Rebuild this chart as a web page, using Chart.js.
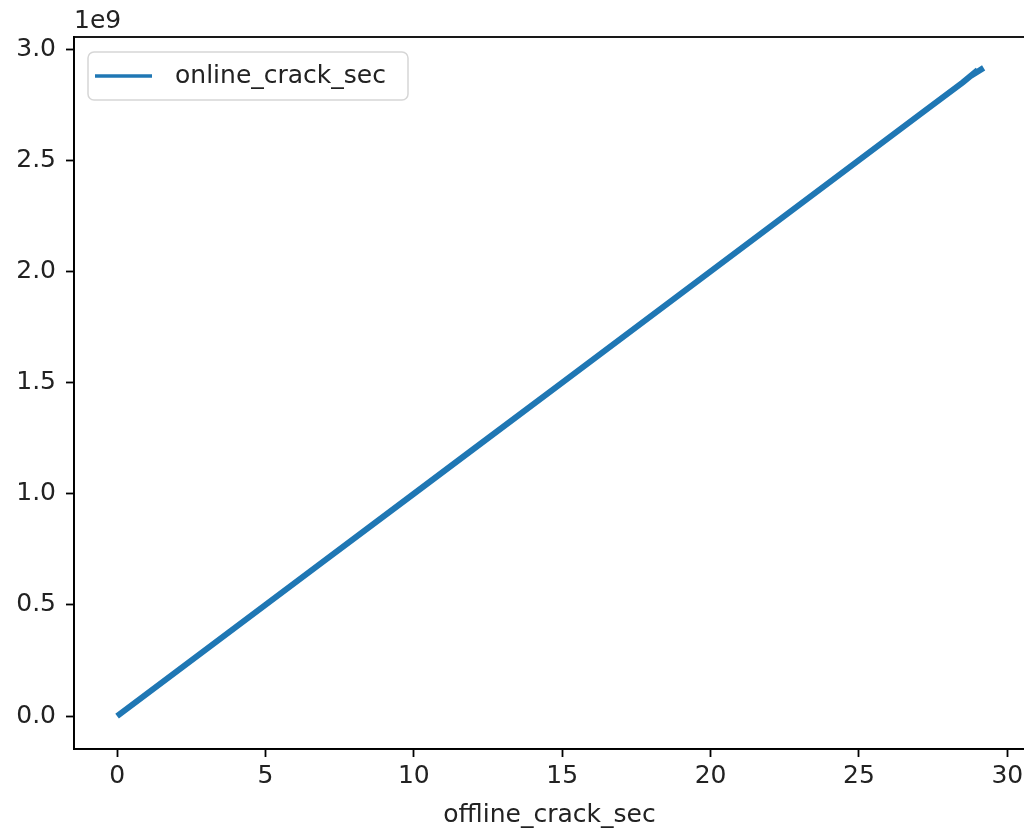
<!DOCTYPE html>
<html>
<head>
<meta charset="utf-8">
<script src="https://cdn.jsdelivr.net/npm/chart.js@4"></script>
<style>
  html, body { margin: 0; padding: 0; background: #fff; overflow: hidden; }
  #wrap { width: 1024px; height: 835px; overflow: hidden; }
</style>
</head>
<body>
<div id="wrap"><canvas id="chart" width="1040" height="835"></canvas></div>
<script>
// offline vs online crack time (seconds)
const offlineSec = [0, 1, 2, 4, 5, 7, 10, 12, 15, 17, 20, 22, 25, 27, 28.5, 29.0, 28.9, 29.2];
const onlineSec = [0, 1.0e8, 2.0e8, 4.0e8, 5.0e8, 7.0e8, 1.0e9, 1.2e9, 1.5e9, 1.7e9, 2.0e9, 2.2e9, 2.5e9, 2.7e9, 2.85e9, 2.905e9, 2.89e9, 2.915e9];
const xTicks = [0, 5, 10, 15, 20, 25, 30];
const yTicks = [0, 0.5e9, 1.0e9, 1.5e9, 2.0e9, 2.5e9, 3.0e9];
const xLabel = "offline_crack_sec";

const FONT = "'DejaVu Sans', sans-serif";
const FS = 25;
const BLUE = "#1f77b4";

// axes frame, axis label, offset label and legend drawn in matplotlib style
const mplDecor = {
  id: "mplDecor",
  afterDraw(chart) {
    const { ctx, chartArea: a } = chart;
    ctx.save();
    ctx.strokeStyle = "#000";
    ctx.lineWidth = 1.8;
    ctx.strokeRect(a.left, a.top, a.right - a.left, a.bottom - a.top);

    ctx.fillStyle = "#222";
    ctx.font = FS + "px " + FONT;
    ctx.textBaseline = "alphabetic";
    ctx.textAlign = "left";
    ctx.fillText("1e9", a.left, a.top - 9);

    ctx.textAlign = "center";
    ctx.textBaseline = "middle";
    ctx.fillText(xLabel, (a.left + 1025) / 2, a.bottom + 66);

    // legend box
    const bx = 88, by = 52, bw = 320, bh = 48, r = 6;
    ctx.beginPath();
    ctx.moveTo(bx + r, by);
    ctx.arcTo(bx + bw, by, bx + bw, by + bh, r);
    ctx.arcTo(bx + bw, by + bh, bx, by + bh, r);
    ctx.arcTo(bx, by + bh, bx, by, r);
    ctx.arcTo(bx, by, bx + bw, by, r);
    ctx.closePath();
    ctx.fillStyle = "rgba(255,255,255,0.8)";
    ctx.fill();
    ctx.strokeStyle = "#d6d6d6";
    ctx.lineWidth = 1.5;
    ctx.stroke();

    const ds = chart.data.datasets[0];
    ctx.beginPath();
    ctx.moveTo(95, by + bh / 2);
    ctx.lineTo(152, by + bh / 2);
    ctx.strokeStyle = ds.borderColor;
    ctx.lineWidth = 3.3;
    ctx.stroke();
    ctx.fillStyle = "#222";
    ctx.textAlign = "left";
    ctx.textBaseline = "middle";
    ctx.fillText(ds.label, 175, by + bh / 2);
    ctx.restore();
  }
};

new Chart(document.getElementById("chart"), {
  type: "scatter",
  data: {
    datasets: [{
      label: "online_crack_sec",
      data: offlineSec.map((x, i) => ({ x: x, y: onlineSec[i] })),
      showLine: true,
      borderColor: BLUE,
      backgroundColor: BLUE,
      borderWidth: 6,
      pointRadius: 0,
      tension: 0
    }]
  },
  options: {
    responsive: false,
    animation: false,
    layout: { padding: { top: 37, right: 0, left: 0, bottom: 0 } },
    plugins: {
      legend: { display: false },
      tooltip: { enabled: false }
    },
    scales: {
      x: {
        type: "linear",
        min: -1.452,
        max: 31.1,
        afterBuildTicks: (s) => { s.ticks = xTicks.map(v => ({ value: v })); },
        afterFit: (s) => { s.height = 86; },
        grid: { display: true, drawOnChartArea: false, tickLength: 8, tickWidth: 1.8, color: "#000" },
        border: { display: true, color: "#000", width: 1.8 },
        ticks: { color: "#222", font: { family: FONT, size: FS }, padding: 4, maxRotation: 0 }
      },
      y: {
        type: "linear",
        min: -0.148e9,
        max: 3.054e9,
        afterBuildTicks: (s) => { s.ticks = yTicks.map(v => ({ value: v })); },
        afterFit: (s) => { s.width = 74; },
        grid: { display: true, drawOnChartArea: false, tickLength: 8, tickWidth: 1.8, color: "#000" },
        border: { display: true, color: "#000", width: 1.8 },
        ticks: {
          color: "#222",
          font: { family: FONT, size: FS },
          padding: 10,
          callback: (v) => (v / 1e9).toFixed(1)
        }
      }
    }
  },
  plugins: [mplDecor]
});
</script>
</body>
</html>
